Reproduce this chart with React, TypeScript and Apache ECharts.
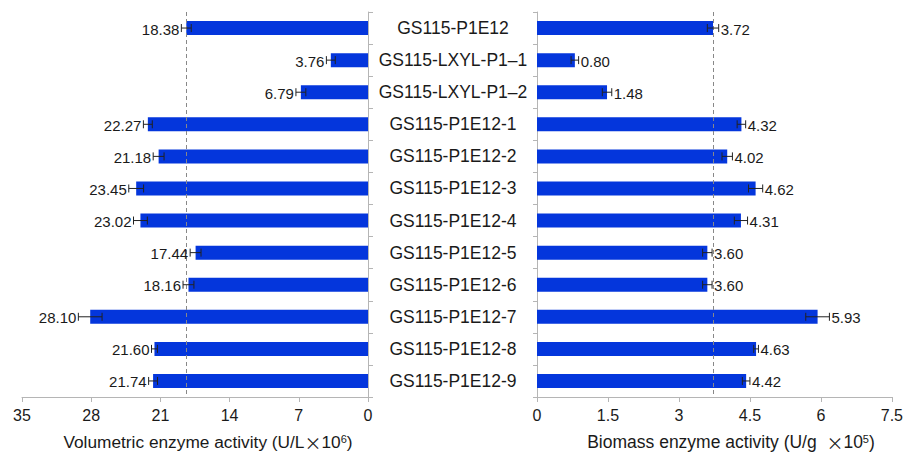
import React, { useEffect, useRef } from "react";
import * as echarts from "echarts";

const categories = [
  "GS115-P1E12",
  "GS115-LXYL-P1–1",
  "GS115-LXYL-P1–2",
  "GS115-P1E12-1",
  "GS115-P1E12-2",
  "GS115-P1E12-3",
  "GS115-P1E12-4",
  "GS115-P1E12-5",
  "GS115-P1E12-6",
  "GS115-P1E12-7",
  "GS115-P1E12-8",
  "GS115-P1E12-9",
];
const volumetric = [18.38, 3.76, 6.79, 22.27, 21.18, 23.45, 23.02, 17.44, 18.16, 28.1, 21.6, 21.74];
const volumetricErr = [0.5, 0.45, 0.5, 0.45, 0.55, 0.75, 0.7, 0.55, 0.55, 1.2, 0.3, 0.45];
const biomass = [3.72, 0.8, 1.48, 4.32, 4.02, 4.62, 4.31, 3.6, 3.6, 5.93, 4.63, 4.42];
const biomassErr = [0.12, 0.08, 0.1, 0.09, 0.11, 0.15, 0.14, 0.1, 0.1, 0.25, 0.05, 0.08];
const volumetricRef = 18.38;
const biomassRef = 3.72;
const leftTicks = { min: 0, max: 35, interval: 7 };
const rightTicks = { min: 0, max: 7.5, interval: 1.5 };

const FONT = "Liberation Sans, Arial, sans-serif";
const CJK = "Noto Sans CJK SC, sans-serif";
const BAR = "#0436DC";
const TXT = "#1a1a1a";

function errSeries(idx: number, vals: number[], errs: number[], dir: number) {
  return {
    type: "custom",
    xAxisIndex: idx,
    yAxisIndex: idx,
    z: 5,
    data: vals.map((v, i) => [v, i, errs[i]]),
    encode: { x: 0, y: 1 },
    renderItem: (params: any, api: any) => {
      const v = api.value(0);
      const c = api.value(1);
      const e = api.value(2);
      const p0 = api.coord([v - e, c]);
      const p1 = api.coord([v + e, c]);
      const y = p0[1];
      const h = 4;
      const st = { stroke: "#222", lineWidth: 1 };
      return {
        type: "group",
        children: [
          { type: "line", shape: { x1: p0[0], y1: y, x2: p1[0], y2: y }, style: st },
          { type: "line", shape: { x1: p0[0], y1: y - h, x2: p0[0], y2: y + h }, style: st },
          { type: "line", shape: { x1: p1[0], y1: y - h, x2: p1[0], y2: y + h }, style: st },
          {
            type: "text",
            x: p1[0] + dir * 2,
            y: y + 1,
            style: {
              text: v.toFixed(2),
              align: dir < 0 ? "right" : "left",
              verticalAlign: "middle",
              fontSize: 15,
              fontFamily: FONT,
              fill: TXT,
            },
          },
        ],
      };
    },
  };
}

function refSeries(idx: number, val: number) {
  return {
    type: "scatter",
    xAxisIndex: idx,
    yAxisIndex: idx,
    data: [],
    z: 1,
    markLine: {
      silent: true,
      symbol: "none",
      label: { show: false },
      lineStyle: { type: [4, 3], color: "#888", width: 1 },
      data: [{ xAxis: val }],
    },
  };
}

const nameRich = {
  sup: { fontSize: 11, verticalAlign: "top", lineHeight: 17, fontFamily: FONT, fill: TXT },
  x: { fontSize: 17, fontFamily: CJK, lineHeight: 17, fill: TXT },
};

export default function App() {
  const ref = useRef<HTMLDivElement>(null);
  useEffect(() => {
    const chart = echarts.init(ref.current!, null, { renderer: "svg" });
    const axisLine = { lineStyle: { color: "#b5b5b5", width: 1 } };
    const xLabel = { fontSize: 16, color: TXT, fontFamily: FONT, margin: 10 };
    chart.setOption({
      animation: false,
      textStyle: { fontFamily: FONT },
      grid: [
        { left: 22, right: 538, top: 12, bottom: 56 },
        { left: 537, right: 13, top: 12, bottom: 56 },
      ],
      xAxis: [
        {
          type: "value",
          gridIndex: 0,
          inverse: true,
          ...leftTicks,
          splitLine: { show: false },
          axisLine: { show: true, ...axisLine },
          axisTick: { show: true, length: 5, lineStyle: { color: "#b5b5b5" } },
          axisLabel: xLabel,
        },
        {
          type: "value",
          gridIndex: 1,
          ...rightTicks,
          splitLine: { show: false },
          axisLine: { show: true, ...axisLine },
          axisTick: { show: true, length: 5, lineStyle: { color: "#b5b5b5" } },
          axisLabel: xLabel,
        },
      ],
      yAxis: [
        {
          type: "category",
          gridIndex: 0,
          position: "right",
          inverse: true,
          data: categories,
          axisLine: { show: true, ...axisLine },
          axisTick: { show: true, length: 5, lineStyle: { color: "#b5b5b5" } },
          axisLabel: { show: false },
        },
        {
          type: "category",
          gridIndex: 1,
          position: "left",
          inverse: true,
          data: categories,
          axisLine: { show: true, ...axisLine },
          axisTick: { show: true, length: 4, lineStyle: { color: "#b5b5b5" } },
          axisLabel: {
            show: true,
            align: "center",
            margin: 84,
            fontSize: 17.5,
            color: TXT,
            fontFamily: FONT,
          },
        },
      ],
      series: [
        refSeries(0, volumetricRef),
        refSeries(1, biomassRef),
        {
          type: "bar",
          xAxisIndex: 0,
          yAxisIndex: 0,
          data: volumetric,
          barWidth: 14,
          z: 3,
          itemStyle: { color: BAR },
        },
        {
          type: "bar",
          xAxisIndex: 1,
          yAxisIndex: 1,
          data: biomass,
          barWidth: 14,
          z: 3,
          itemStyle: { color: BAR },
        },
        errSeries(0, volumetric, volumetricErr, -1),
        errSeries(1, biomass, biomassErr, 1),
      ],
      graphic: [
        {
          type: "text",
          x: 208,
          y: 442,
          style: {
            text: "Volumetric enzyme activity (U/L{x|×}10{sup|6})",
            align: "center",
            verticalAlign: "middle",
            fontSize: 17.3,
            fontFamily: FONT,
            fill: TXT,
            lineHeight: 17,
            rich: nameRich,
          },
        },
        {
          type: "text",
          x: 731,
          y: 442,
          style: {
            text: "Biomass enzyme activity (U/g  {x|×}10{sup|5})",
            align: "center",
            verticalAlign: "middle",
            fontSize: 17.5,
            fontFamily: FONT,
            fill: TXT,
            lineHeight: 17,
            rich: nameRich,
          },
        },
      ],
    });
    return () => chart.dispose();
  }, []);
  return (
    <div
      ref={ref}
      style={{ position: "fixed", left: 0, top: 0, width: 906, height: 453, background: "#fff" }}
    />
  );
}
